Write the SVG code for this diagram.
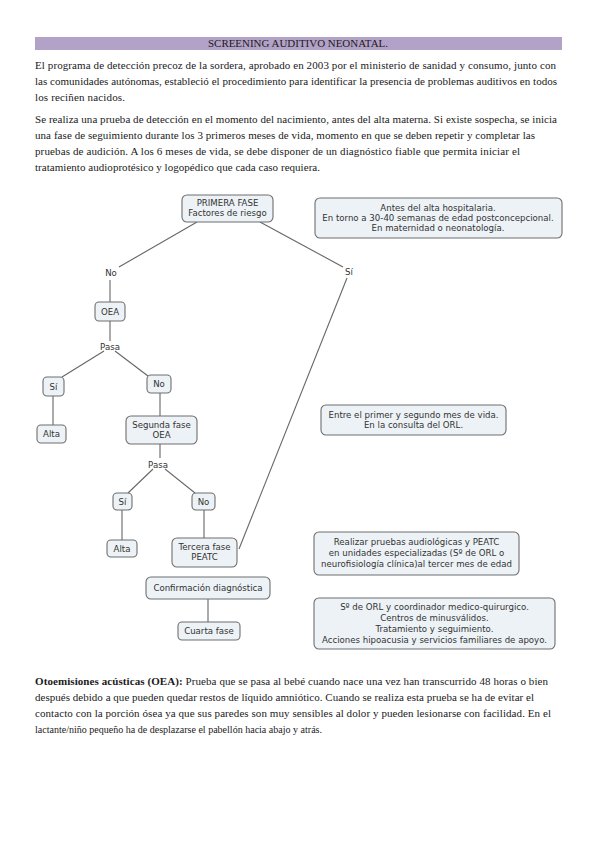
<svg xmlns="http://www.w3.org/2000/svg" width="599" height="848" viewBox="0 0 599 848">
<style>
.p{font-family:"Liberation Serif","Times New Roman",serif;font-size:11px;fill:#1a1a1a}
.b{font-weight:bold}
.n rect{fill:#edf2f6;stroke:#6e6e6e;stroke-width:1.1}
.n text,.lbl{font-family:"DejaVu Sans",Verdana,sans-serif;font-size:8.6px;fill:#333;text-anchor:middle}
#connectors line{stroke:#666;stroke-width:1.1}
</style>
<rect x="0" y="0" width="599" height="848" fill="#fff"/>
<rect x="35" y="37" width="527" height="13" fill="#b3a2c7"/>
<text class="p" x="298" y="47" text-anchor="middle" font-size="10" textLength="180" lengthAdjust="spacingAndGlyphs">SCREENING AUDITIVO NEONATAL.</text>
<text class="p" x="35" y="69" textLength="521">El programa de detección precoz de la sordera, aprobado en 2003 por el ministerio de sanidad y consumo, junto con</text>
<text class="p" x="35" y="85" textLength="522">las comunidades autónomas, estableció el procedimiento para identificar la presencia de problemas auditivos en todos</text>
<text class="p" x="35" y="101" textLength="90">los reciñen nacidos.</text>
<text class="p" x="35" y="123" textLength="522">Se realiza una prueba de detección en el momento del nacimiento, antes del alta materna. Si existe sospecha, se inicia</text>
<text class="p" x="35" y="139" textLength="500">una fase de seguimiento durante los 3 primeros meses de vida, momento en que se deben repetir y completar las</text>
<text class="p" x="35" y="155" textLength="485">pruebas de audición. A los 6 meses de vida, se debe disponer de un diagnóstico fiable que permita iniciar el</text>
<text class="p" x="35" y="171" textLength="285">tratamiento audioprotésico y logopédico que cada caso requiera.</text>
<g id="connectors">
<line x1="197" y1="222" x2="119" y2="267"/>
<line x1="110" y1="280" x2="110" y2="302"/>
<line x1="110" y1="321" x2="110" y2="341"/>
<line x1="104" y1="351" x2="62" y2="377"/>
<line x1="115" y1="351" x2="148" y2="376"/>
<line x1="53" y1="396" x2="53" y2="425"/>
<line x1="160" y1="393" x2="160" y2="416"/>
<line x1="160" y1="444" x2="160" y2="458"/>
<line x1="153" y1="469" x2="128" y2="493"/>
<line x1="165" y1="469" x2="195" y2="493"/>
<line x1="122" y1="510" x2="122" y2="540"/>
<line x1="204" y1="510" x2="204" y2="538"/>
<line x1="260" y1="222" x2="343" y2="267"/>
<line x1="347" y1="278" x2="239" y2="549"/>
<line x1="208" y1="599" x2="208" y2="622"/>
</g>
<text class="lbl" x="111" y="276">No</text>
<text class="lbl" x="110" y="350">Pasa</text>
<text class="lbl" x="158" y="468">Pasa</text>
<text class="lbl" x="349" y="275">Sí</text>
<g id="n1" class="n"><rect x="182" y="195" width="91" height="27" rx="5"/><text x="227.5" y="206">PRIMERA FASE</text><text x="227.5" y="216">Factores de riesgo</text></g>
<g id="n2" class="n"><rect x="315" y="198" width="247" height="40" rx="5"/><text x="438" y="211">Antes del alta hospitalaria.</text><text x="438" y="221">En torno a 30-40 semanas de edad postconcepcional.</text><text x="438" y="231">En maternidad o neonatología.</text></g>
<g id="n3" class="n"><rect x="95" y="302" width="30" height="19" rx="4"/><text x="110" y="314.5">OEA</text></g>
<g id="n4" class="n"><rect x="43" y="377" width="21" height="19" rx="4"/><text x="53.5" y="389.5">Sí</text></g>
<g id="n5" class="n"><rect x="147" y="375" width="24" height="18" rx="4"/><text x="159" y="387">No</text></g>
<g id="n6" class="n"><rect x="37" y="425" width="29" height="18" rx="4"/><text x="51.5" y="437">Alta</text></g>
<g id="n7" class="n"><rect x="126" y="416" width="71" height="28" rx="5"/><text x="161.5" y="427.5">Segunda fase</text><text x="161.5" y="437.5">OEA</text></g>
<g id="n8" class="n"><rect x="113" y="493" width="19" height="17" rx="4"/><text x="122.5" y="504.5">Sí</text></g>
<g id="n9" class="n"><rect x="192" y="493" width="23" height="17" rx="4"/><text x="203.5" y="504.5">No</text></g>
<g id="n10" class="n"><rect x="107" y="540" width="30" height="17" rx="4"/><text x="122" y="551.5">Alta</text></g>
<g id="n11" class="n"><rect x="172" y="538" width="65" height="29" rx="5"/><text x="204.5" y="550">Tercera fase</text><text x="204.5" y="560">PEATC</text></g>
<g id="n12" class="n"><rect x="321" y="405" width="185" height="30" rx="5"/><text x="413.5" y="418">Entre el primer y segundo mes de vida.</text><text x="413.5" y="427.5">En la consulta del ORL.</text></g>
<g id="n13" class="n"><rect x="314" y="532" width="205" height="43" rx="5"/><text x="416.5" y="545">Realizar pruebas audiológicas y PEATC</text><text x="416.5" y="556">en unidades especializadas (Sº de ORL o</text><text x="416.5" y="566.5">neurofisiología clínica)al tercer mes de edad</text></g>
<g id="n14" class="n"><rect x="146" y="577" width="124" height="22" rx="5"/><text x="208" y="590.5">Confirmación diagnóstica</text></g>
<g id="n15" class="n"><rect x="178" y="622" width="62" height="18" rx="4"/><text x="209" y="634">Cuarta fase</text></g>
<g id="n16" class="n"><rect x="314" y="598" width="241" height="51" rx="5"/><text x="434.5" y="610">Sº de ORL y coordinador medico-quirurgico.</text><text x="434.5" y="621">Centros de minusválidos.</text><text x="434.5" y="632">Tratamiento y seguimiento.</text><text x="434.5" y="643">Acciones hipoacusia y servicios familiares de apoyo.</text></g>
<text class="p" x="35" y="685" textLength="513"><tspan class="b">Otoemisiones acústicas (OEA):</tspan> Prueba que se pasa al bebé cuando nace una vez han transcurrido 48 horas o bien</text>
<text class="p" x="35" y="701" textLength="499">después debido a que pueden quedar restos de líquido amniótico. Cuando se realiza esta prueba se ha de evitar el</text>
<text class="p" x="35" y="717" textLength="516">contacto con la porción ósea ya que sus paredes son muy sensibles al dolor y pueden lesionarse con facilidad. En el</text>
<text class="p" x="35" y="733" textLength="287" lengthAdjust="spacingAndGlyphs">lactante/niño pequeño ha de desplazarse el pabellón hacia abajo y atrás.</text>
</svg>
